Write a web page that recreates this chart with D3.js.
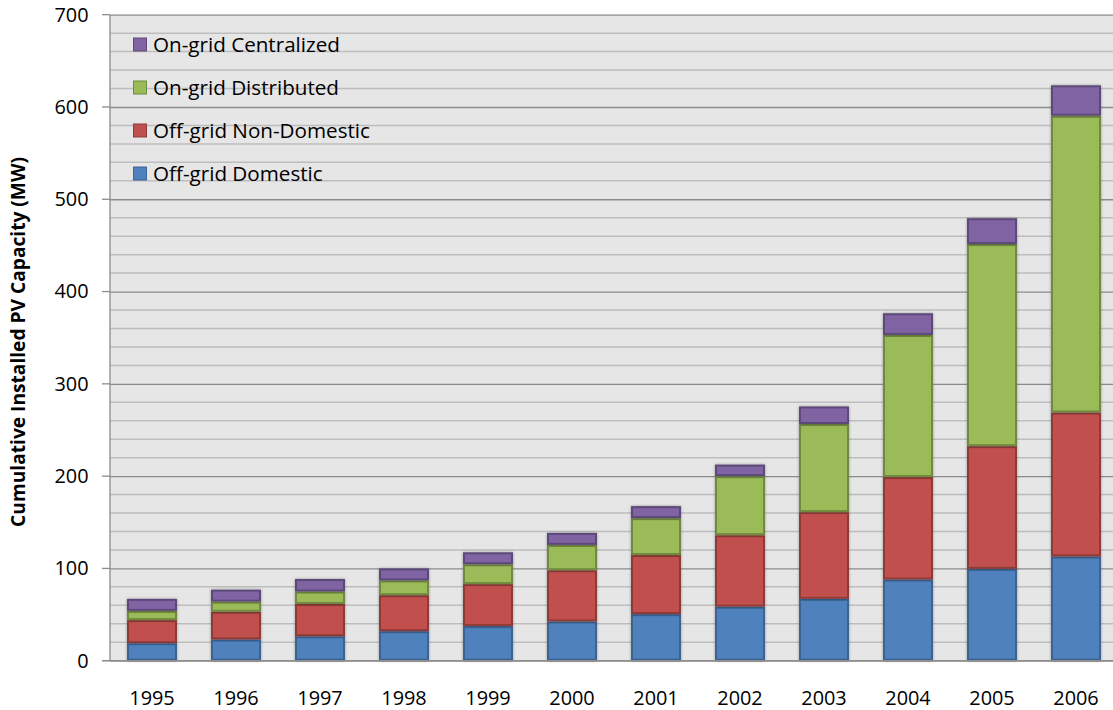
<!DOCTYPE html>
<html>
<head>
<meta charset="utf-8">
<script src="https://cdn.jsdelivr.net/npm/d3@7"></script>
<style>
  html, body { margin: 0; padding: 0; background: #ffffff; }
  svg { display: block; }
  text { font-family: "Open Sans", sans-serif; fill: #000; }
</style>
</head>
<body>
<svg id="chart" width="1113" height="710"></svg>
<script>
// Cumulative installed PV capacity (MW), by segment
const years = ["1995","1996","1997","1998","1999","2000","2001","2002","2003","2004","2005","2006"];
const offGridDomestic    = [19, 23, 26.5, 32, 37.5, 42.5, 50.5, 58.5, 67, 88, 99.5, 113];
const offGridNonDomestic = [25, 30, 35, 39, 45.5, 55.5, 64, 77.5, 94, 111, 133, 156];
const onGridDistributed  = [10, 11, 13.5, 16, 21.5, 27.5, 40, 64, 95.5, 154, 219, 321.5];
const onGridCentralized  = [13, 13, 13.5, 13, 13, 13, 13, 12.5, 19, 23.5, 28, 33];
const seriesNames = ["Off-grid Domestic", "Off-grid Non-Domestic", "On-grid Distributed", "On-grid Centralized"];
const yTicks = [0, 100, 200, 300, 400, 500, 600, 700];
const yMinorTicks = d3.range(0, 701, 20);
const yTitle = "Cumulative Installed PV Capacity (MW)";

const fills   = ["#4F81BD", "#C0504D", "#9BBB59", "#8064A2"];
const strokes = ["#3A6393", "#8E3B39", "#71893F", "#5D4979"];

const svg = d3.select("#chart");
const plotLeft = 110, plotRight = 1118, plotTop = 14.7, plotBottom = 660.7;
const fontFamily = "'Open Sans', sans-serif";

// Pick a font size so a sample string spans the wanted width
function fitSize(str, width, weight) {
  const t = svg.append("text").attr("font-family", fontFamily)
    .attr("font-weight", weight || "normal").attr("font-size", 20).text(str);
  const w = t.node().getComputedTextLength();
  t.remove();
  return 20 * width / w;
}
const tickSize = fitSize("1995", 45.5);
const legendSize = fitSize("On-grid Centralized", 187);
const titleSize = fitSize(yTitle, 370, "bold");

const x = d3.scaleBand().domain(years).range([plotLeft, plotRight])
  .paddingInner(34 / 84).paddingOuter(17 / 84);
const y = d3.scaleLinear().domain([0, 700]).range([plotBottom, plotTop]);

// Rows for the stack
const rows = years.map((yr, i) => ({
  year: yr,
  [seriesNames[0]]: offGridDomestic[i],
  [seriesNames[1]]: offGridNonDomestic[i],
  [seriesNames[2]]: onGridDistributed[i],
  [seriesNames[3]]: onGridCentralized[i]
}));
const stacked = d3.stack().keys(seriesNames)(rows);

// Plot background
svg.append("rect")
  .attr("x", plotLeft).attr("y", plotTop)
  .attr("width", plotRight - plotLeft).attr("height", plotBottom - plotTop)
  .attr("fill", "#e6e6e6");

// Minor gridlines
svg.append("g").selectAll("line")
  .data(yMinorTicks.filter(v => v % 100 !== 0))
  .join("line")
  .attr("x1", plotLeft).attr("x2", plotRight)
  .attr("y1", d => y(d)).attr("y2", d => y(d))
  .attr("stroke", "#bdbdbd").attr("stroke-width", 1.5);

// Major gridlines via axis
const yAxis = svg.append("g")
  .attr("transform", `translate(${plotLeft},0)`)
  .call(d3.axisLeft(y).tickValues(yTicks).tickSize(-(plotRight - plotLeft)).tickPadding(21.5).tickFormat(d3.format("d")));
yAxis.select(".domain").remove();
yAxis.selectAll(".tick line")
  .attr("stroke", "#8c8c8c").attr("stroke-width", 1.3);
yAxis.selectAll(".tick text")
  .attr("font-size", tickSize).attr("font-family", fontFamily).attr("fill", "#000");

// Outward tick marks
svg.append("g").selectAll("line")
  .data(yTicks)
  .join("line")
  .attr("x1", plotLeft - 8).attr("x2", plotLeft)
  .attr("y1", d => y(d)).attr("y2", d => y(d))
  .attr("stroke", "#8c8c8c").attr("stroke-width", 1.3);

// Left axis line
svg.append("line")
  .attr("x1", plotLeft).attr("x2", plotLeft)
  .attr("y1", plotTop).attr("y2", plotBottom)
  .attr("stroke", "#8c8c8c").attr("stroke-width", 1.3);

// Soft bar shadow
const defs = svg.append("defs");
const f = defs.append("filter").attr("id", "shadow")
  .attr("x", "-20%").attr("y", "-20%").attr("width", "140%").attr("height", "140%");
f.append("feGaussianBlur").attr("in", "SourceAlpha").attr("stdDeviation", 1.5).attr("result", "b");
f.append("feComponentTransfer").attr("in", "b").attr("result", "s")
  .append("feFuncA").attr("type", "linear").attr("slope", 0.35);
const m = f.append("feMerge");
m.append("feMergeNode").attr("in", "s");
m.append("feMergeNode").attr("in", "SourceGraphic");

// Stacked bars
svg.append("g").selectAll("g")
  .data(stacked)
  .join("g")
  .attr("fill", (d, i) => fills[i])
  .attr("stroke", (d, i) => strokes[i])
  .attr("filter", "url(#shadow)")
  .selectAll("rect")
  .data(d => d)
  .join("rect")
  .attr("x", d => x(d.data.year) + 1)
  .attr("width", x.bandwidth() - 2)
  .attr("y", d => y(d[1]) + 1)
  .attr("height", d => Math.max(0, y(d[0]) - y(d[1]) - 2))
  .attr("stroke-width", 2);

// Category axis
const xAxis = svg.append("g")
  .attr("transform", `translate(0,${plotBottom})`)
  .call(d3.axisBottom(x).tickSize(0).tickPadding(30));
xAxis.select(".domain").remove();
xAxis.selectAll(".tick text")
  .attr("font-size", tickSize).attr("font-family", fontFamily).attr("fill", "#000");
svg.append("line")
  .attr("x1", plotLeft - 8).attr("x2", plotRight)
  .attr("y1", plotBottom).attr("y2", plotBottom)
  .attr("stroke", "#8c8c8c").attr("stroke-width", 1.3);

// Y title
svg.append("text")
  .attr("transform", `translate(25,342) rotate(-90)`)
  .attr("text-anchor", "middle")
  .attr("font-size", titleSize).attr("font-weight", "bold")
  .text(yTitle);

// Legend (top series listed first)
const legend = svg.append("g");
const order = [3, 2, 1, 0];
order.forEach((si, k) => {
  const cy = 45 + k * 43;
  legend.append("rect")
    .attr("x", 133.5).attr("y", cy - 7)
    .attr("width", 13).attr("height", 13)
    .attr("fill", fills[si]).attr("stroke", strokes[si]).attr("stroke-width", 1);
  legend.append("text")
    .attr("x", 153).attr("y", cy + 7)
    .attr("font-size", legendSize)
    .text(seriesNames[si]);
});
</script>
</body>
</html>
